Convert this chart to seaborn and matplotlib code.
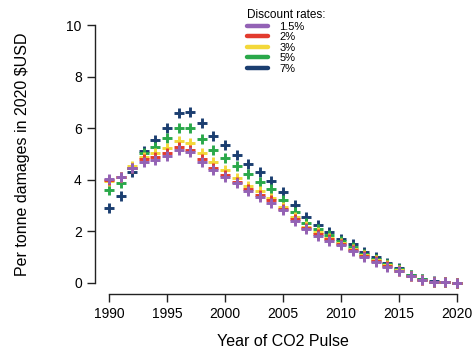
import numpy as np
import pandas as pd
import matplotlib
matplotlib.use("Agg")
import matplotlib.pyplot as plt
from matplotlib.lines import Line2D
import seaborn as sns

sns.set_style("white")
plt.rcParams["font.family"] = ["Liberation Sans", "DejaVu Sans"]
plt.rcParams["text.color"] = "black"
plt.rcParams["axes.labelcolor"] = "black"
plt.rcParams["xtick.color"] = "black"
plt.rcParams["ytick.color"] = "black"

years = list(range(1990, 2021))

rate_labels = ["1.5%", "2%", "3%", "5%", "7%"]
rate_colors = ["#9362b5", "#e23b2e", "#f3d83a", "#2aa84a", "#1b3e70"]

dmg_1_5 = [4.03, 4.13, 4.45, 4.71, 4.78, 4.93, 5.17, 5.07, 4.71, 4.39,
           4.10, 3.87, 3.58, 3.35, 3.12, 2.83, 2.42, 2.09, 1.84, 1.64,
           1.46, 1.25, 1.00, 0.82, 0.63, 0.45, 0.26, 0.12, 0.05, 0.02, 0.00]
dmg_2 = [4.00, 4.12, 4.47, 4.80, 4.88, 5.06, 5.29, 5.17, 4.80, 4.48,
         4.19, 3.90, 3.64, 3.42, 3.22, 2.87, 2.49, 2.14, 1.90, 1.70,
         1.50, 1.29, 1.04, 0.85, 0.66, 0.47, 0.27, 0.13, 0.05, 0.02, 0.00]
dmg_3 = [3.97, 4.10, 4.52, 4.88, 5.04, 5.23, 5.51, 5.45, 5.06, 4.69,
         4.39, 4.07, 3.77, 3.55, 3.29, 2.96, 2.55, 2.19, 1.97, 1.76,
         1.54, 1.33, 1.08, 0.89, 0.69, 0.49, 0.28, 0.13, 0.05, 0.02, 0.00]
dmg_5 = [3.61, 3.87, 4.47, 5.05, 5.29, 5.62, 6.01, 6.01, 5.59, 5.17,
         4.84, 4.52, 4.23, 3.93, 3.64, 3.22, 2.77, 2.34, 2.09, 1.86,
         1.62, 1.40, 1.14, 0.94, 0.73, 0.53, 0.30, 0.14, 0.05, 0.02, 0.00]
dmg_7 = [2.90, 3.38, 4.32, 5.13, 5.53, 6.01, 6.59, 6.65, 6.20, 5.71,
         5.36, 4.97, 4.62, 4.30, 3.97, 3.52, 3.03, 2.55, 2.25, 1.97,
         1.70, 1.50, 1.20, 1.02, 0.78, 0.57, 0.32, 0.15, 0.06, 0.02, 0.00]

series = [dmg_1_5, dmg_2, dmg_3, dmg_5, dmg_7]

# long-form table; highest rate first so 1.5% ends up on top
frames = []
for lab, vals in reversed(list(zip(rate_labels, series))):
    frames.append(pd.DataFrame({"year": years, "damage": vals, "rate": lab}))
df = pd.concat(frames, ignore_index=True)

palette = dict(zip(rate_labels, rate_colors))

fig = plt.figure(figsize=(4.74, 3.51), dpi=100)
ax = fig.add_axes([95 / 474, 1 - 294 / 351, 376 / 474, 279 / 351])

sns.scatterplot(data=df, x="year", y="damage", hue="rate", palette=palette,
                marker="+", s=52, linewidth=2.1, legend=False, ax=ax)

ax.set_xlim(1988.8, 2021.2)
ax.set_ylim(-0.43, 10.4)
ax.set_xticks([1990, 1995, 2000, 2005, 2010, 2015, 2020])
ax.set_yticks([0, 2, 4, 6, 8, 10])

for side in ["top", "right"]:
    ax.spines[side].set_visible(False)
ax.spines["left"].set_bounds(0, 10)
ax.spines["bottom"].set_bounds(1990, 2020)
for side in ["left", "bottom"]:
    ax.spines[side].set_color("#222222")
    ax.spines[side].set_linewidth(1.0)

ax.tick_params(axis="both", which="major", length=5.5, width=1.0,
               color="#222222", labelcolor="black", labelsize=10, pad=4,
               direction="out", left=True, bottom=True)
ax.set_xlabel("Year of CO2 Pulse", fontsize=11.5, labelpad=9)
ax.set_ylabel("Per tonne damages in 2020 $USD", fontsize=11.5, labelpad=26)
ax.grid(False)

handles = [Line2D([0], [0], color=c, lw=3.2, solid_capstyle="round")
           for c in rate_colors]
leg = ax.legend(handles, rate_labels, title="Discount rates:",
                loc="upper left", bbox_to_anchor=(247 / 474, 1 - 9 / 351),
                bbox_transform=fig.transFigure, frameon=False,
                fontsize=8, title_fontsize=8.5, handlelength=1.9,
                handletextpad=1.0, labelspacing=0.05, borderpad=0,
                borderaxespad=0, alignment="left")
leg.get_title().set_color("black")

fig.savefig("out.png", dpi=100)
